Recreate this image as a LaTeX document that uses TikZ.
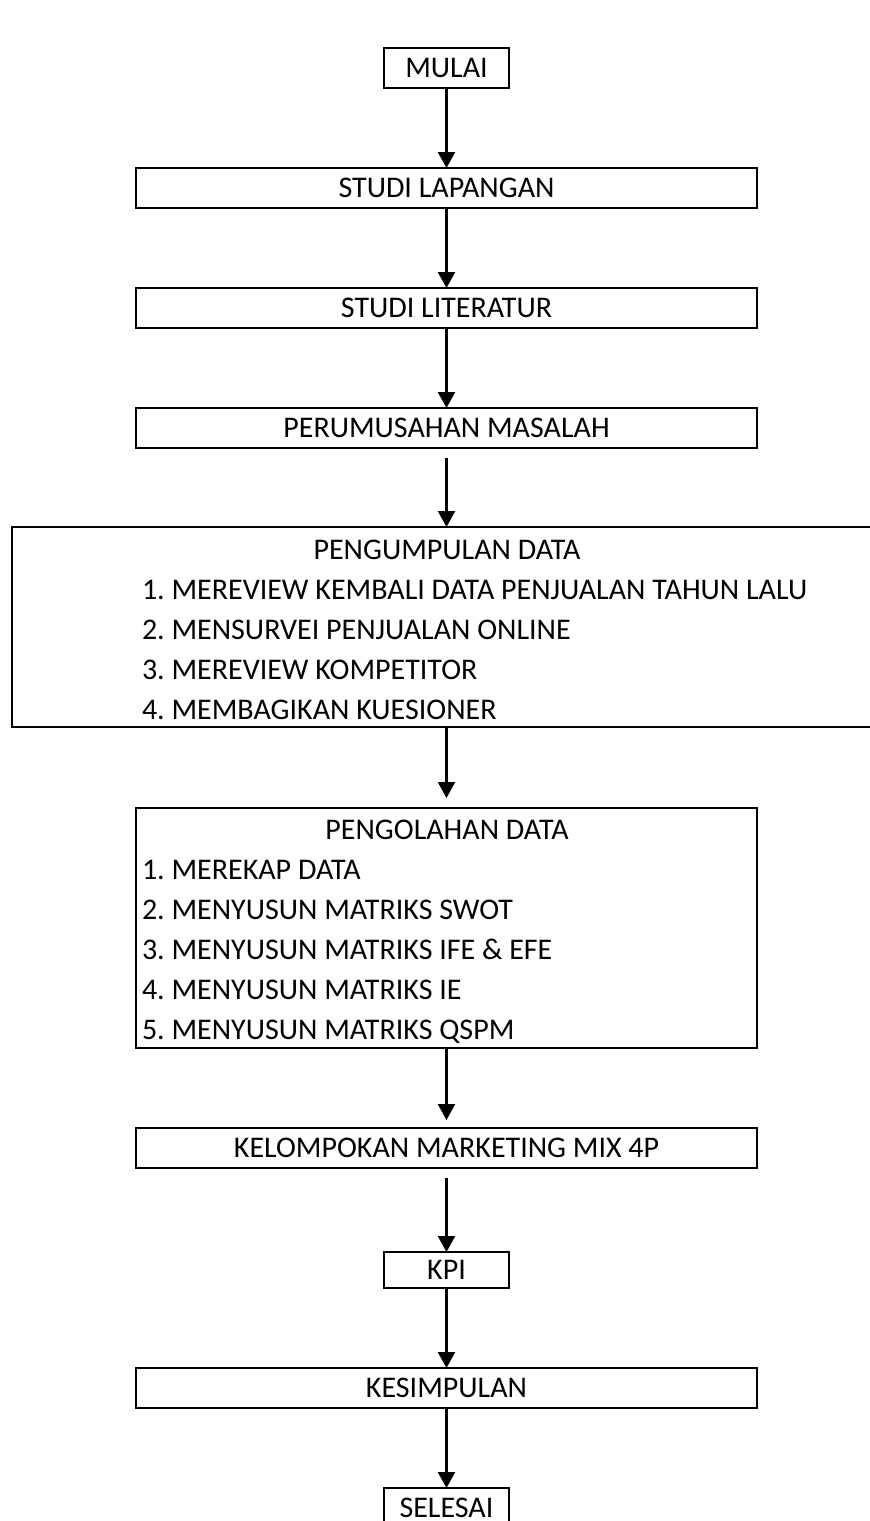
\documentclass[tikz,border=0pt]{standalone}
\usepackage{fontspec}
\setmainfont{Carlito}
\usetikzlibrary{arrows.meta}
\frenchspacing
\begin{document}
\begin{tikzpicture}[x=1pt,y=-1pt,
  every node/.style={inner sep=0pt, outer sep=0pt, font=\fontsize{30}{36}\selectfont},
  box/.style={draw, line width=1.7pt, minimum height=40pt},
  widebox/.style={box, minimum width=621pt},
  smallbox/.style={box, minimum width=125pt},
  txt/.style={text height=19.3pt, text depth=0pt},
  item/.style={txt, anchor=west},
  arr/.style={line width=2.2pt, -{Triangle[width=17pt,length=16pt]}}
]
\useasboundingbox (0,0) rectangle (870,1521);
\clip (0,0) rectangle (870,1521);
% boxes
\node[smallbox] (mulai) at (446.5,68) {};
\node[txt] at (mulai.center) {MULAI};
\node[widebox] (lap) at (446.5,188) {};
\node[txt] at (lap.center) {STUDI LAPANGAN};
\node[widebox] (lit) at (446.5,308) {};
\node[txt] at (lit.center) {STUDI LITERATUR};
\node[widebox] (rum) at (446.5,428) {};
\node[txt] at (rum.center) {PERUMUSAHAN MASALAH};
\node[box, minimum width=900pt, minimum height=200pt] (kum) at (462,627) {};
\node[txt] (kumt) at (447,550) {PENGUMPULAN DATA};
\node[item] at (142,590) {1. MEREVIEW KEMBALI DATA PENJUALAN TAHUN LALU};
\node[item] at (142,630) {2. MENSURVEI PENJUALAN ONLINE};
\node[item] at (142,670) {3. MEREVIEW KOMPETITOR};
\node[item] at (142,710) {4. MEMBAGIKAN KUESIONER};
\node[widebox, minimum height=240pt] (olah) at (446.5,928) {};
\node[txt] at (447,830) {PENGOLAHAN DATA};
\node[item] at (142,870) {1. MEREKAP DATA};
\node[item] at (142,910) {2. MENYUSUN MATRIKS SWOT};
\node[item] at (142,950) {3. MENYUSUN MATRIKS IFE \& EFE};
\node[item] at (142,990) {4. MENYUSUN MATRIKS IE};
\node[item] at (142,1030) {5. MENYUSUN MATRIKS QSPM};
\node[widebox] (mix) at (446.5,1148) {};
\node[txt] at (mix.center) {KELOMPOKAN MARKETING MIX 4P};
\node[smallbox, minimum height=36pt] (kpi) at (446.5,1270) {};
\node[txt] at (kpi.center) {KPI};
\node[widebox] (kes) at (446.5,1388) {};
\node[txt] at (kes.center) {KESIMPULAN};
\node[smallbox] (sel) at (446.5,1508) {};
\node[txt] at (sel.center) {SELESAI};
% connectors
\coordinate (r0) at ([yshift=-10pt]rum.south);
\coordinate (m0) at ([yshift=-10pt]mix.south);
\draw[arr] (mulai.south) -- (lap.north);
\draw[arr] (lap.south) -- (lit.north);
\draw[arr] (lit.south) -- (rum.north);
\draw[arr] (r0) -- (r0 |- kum.north);
\draw[arr] (kum.south -| olah.north) -- ([yshift=10pt]olah.north);
\draw[arr] (olah.south) -- ([yshift=8pt]mix.north);
\draw[arr] (m0) -- (kpi.north);
\draw[arr] (kpi.south) -- (kes.north);
\draw[arr] (kes.south) -- (sel.north);
\end{tikzpicture}
\end{document}
